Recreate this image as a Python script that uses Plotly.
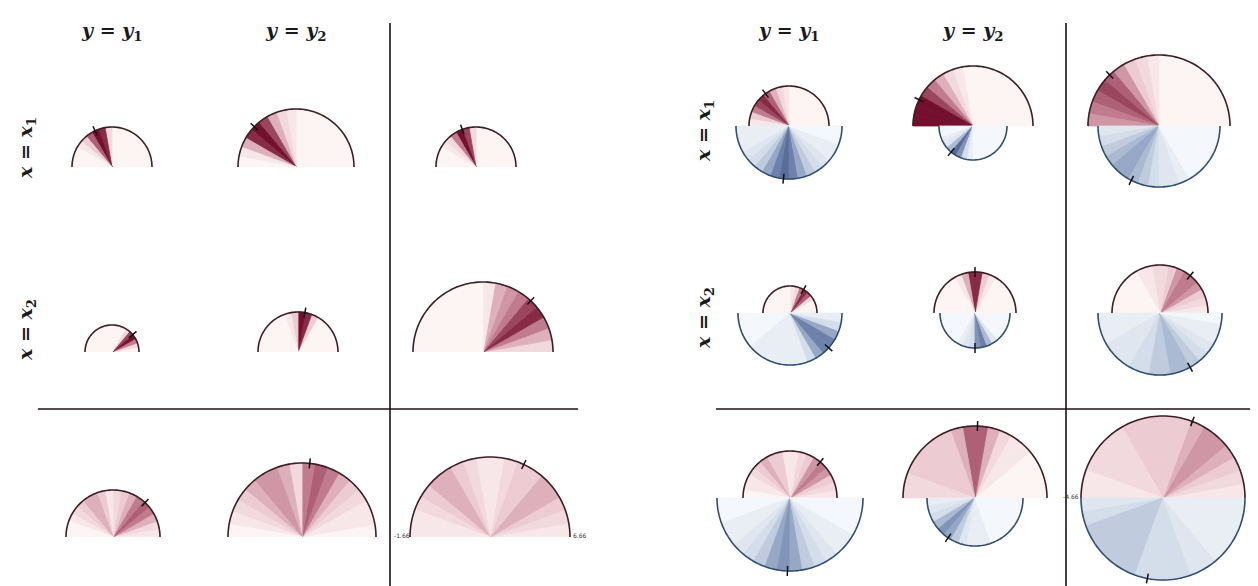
import numpy as np
import plotly.graph_objects as go

# bin centres (degrees) for the upper (red) and lower (blue) half of a glyph
angles_up = list(range(5, 180, 10))
angles_dn = list(range(185, 360, 10))

# left panel, glyphs in row-major order (x1/y1, x1/y2, x1/all, x2/..., all/...)
left_radius = [40, 58, 40, 27, 40, 70, 47, 74, 80]
left_tick = [115, 136, 110, 40, 80, 47, 47, 84, 65]
left_red = [
    [0, 0, 0, 0, 0, 0, 0, 0, 0, 2, 9, 10, 7, 3, 1, 0, 0, 0],
    [0, 0, 0, 0, 0, 0, 0, 0, 0, 1, 2, 4, 8, 10, 9, 4, 1, 0],
    [0, 0, 0, 0, 0, 0, 0, 0, 0, 2, 8, 10, 6, 2, 1, 0, 0, 0],
    [0, 2, 6, 10, 8, 2, 0, 0, 0, 0, 0, 0, 0, 0, 0, 0, 0, 0],
    [0, 0, 0, 0, 0, 0, 3, 9, 10, 3, 1, 0, 0, 0, 0, 0, 0, 0],
    [2, 4, 6, 9, 8, 6, 5, 4, 1, 0, 0, 0, 0, 0, 0, 0, 0, 0],
    [1, 2, 4, 6, 7, 6, 4, 3, 2, 1, 3, 4, 4, 3, 2, 1, 0, 0],
    [0, 1, 1, 2, 3, 4, 6, 7, 6, 2, 4, 5, 5, 4, 3, 2, 1, 0],
    [1, 2, 3, 4, 4, 3, 3, 2, 1, 1, 2, 3, 4, 4, 3, 2, 1, 1],
]

# right panel: upper (red) and lower (blue) halves
right_radius_up = [40, 60, 71, 27, 41, 48, 47, 72, 82]
right_radius_dn = [53, 34, 61, 52, 35, 62, 73, 48, 82]
right_tick_up = [126, 154, 134, 60, 90, 51, 50, 88, 69]
right_tick_dn = [264, 230, 243, 318, 270, 299, 268, 236, 259]
right_red = [
    [0, 0, 0, 0, 0, 0, 0, 0, 0, 1, 2, 4, 7, 9, 8, 6, 3, 1],
    [0, 0, 0, 0, 0, 0, 0, 0, 0, 0, 1, 2, 4, 6, 8, 10, 10, 10],
    [0, 0, 0, 0, 0, 0, 0, 0, 0, 1, 2, 3, 5, 7, 8, 7, 6, 5],
    [0, 0, 0, 2, 7, 9, 6, 2, 1, 0, 0, 0, 0, 0, 0, 0, 0, 0],
    [0, 0, 0, 0, 0, 0, 1, 3, 9, 9, 4, 1, 0, 0, 0, 0, 0, 0],
    [1, 2, 3, 5, 6, 6, 5, 3, 2, 2, 1, 1, 0, 0, 0, 0, 0, 0],
    [1, 2, 3, 5, 6, 5, 3, 2, 1, 1, 3, 3, 4, 3, 2, 1, 1, 0],
    [0, 0, 0, 0, 1, 1, 2, 4, 7, 7, 4, 3, 3, 3, 3, 3, 2, 2],
    [1, 2, 3, 4, 5, 5, 4, 3, 3, 3, 3, 3, 2, 2, 2, 2, 1, 1],
]
right_blue = [
    [1, 1, 1, 2, 3, 4, 6, 8, 9, 8, 6, 4, 3, 2, 1, 1, 0, 0],
    [0, 0, 1, 2, 5, 9, 7, 3, 1, 0, 0, 0, 0, 0, 0, 0, 0, 0],
    [2, 3, 4, 5, 6, 6, 5, 4, 3, 2, 2, 1, 0, 0, 0, 0, 0, 0],
    [0, 0, 0, 0, 1, 1, 1, 1, 1, 1, 1, 3, 6, 8, 8, 6, 3, 1],
    [0, 0, 0, 0, 0, 0, 1, 2, 3, 7, 8, 5, 2, 0, 0, 0, 0, 0],
    [1, 1, 1, 2, 2, 2, 3, 3, 4, 4, 5, 5, 4, 3, 2, 1, 1, 0],
    [0, 0, 1, 1, 2, 3, 4, 6, 7, 6, 4, 3, 2, 1, 1, 0, 0, 0],
    [1, 2, 3, 5, 7, 6, 4, 2, 1, 1, 1, 0, 0, 0, 0, 0, 0, 0],
    [2, 3, 4, 4, 4, 4, 4, 3, 3, 3, 3, 2, 2, 1, 1, 1, 1, 1],
]

col_labels = ["<b><i>y</i> = <i>y</i><sub>1</sub></b>", "<b><i>y</i> = <i>y</i><sub>2</sub></b>"]
row_labels = ["<b><i>x</i> = <i>x</i><sub>1</sub></b>", "<b><i>x</i> = <i>x</i><sub>2</sub></b>"]
axis_labels = ["-1.66", "6.66", "-4.66", "7.0"]

# ---- layout geometry (pixels) ----
W, H = 1258, 586
RMAX = 88
left_cx = [[104, 288, 468], [104, 290, 475], [105, 294, 482]]
left_cy = [159, 344, 529]
right_cx = [[781, 965, 1151], [782, 967, 1152], [782, 967, 1155]]
right_cy = [118, 305, 490]

reds = [[0, "#fdf5f3"], [0.3, "#eccbd2"], [0.6, "#c07b8e"], [1, "#74102f"]]
blues = [[0, "#f4f7fb"], [0.3, "#d4ddea"], [0.6, "#97a8c7"], [1, "#44598c"]]

fig = go.Figure()
layout_polars = {}
arc_up = np.linspace(0, 180, 91)
arc_dn = np.linspace(180, 360, 91)


def px_x(v):
    return v / W


def px_y(v):
    return 1 - v / H


def add_half(sub, theta, rad, inten, scale, arc, arc_col, tick):
    fig.add_trace(go.Barpolar(
        theta=theta, r=[rad] * len(theta), width=10,
        marker=dict(color=inten, colorscale=scale, cmin=0, cmax=10,
                    line=dict(color=inten, colorscale=scale, cmin=0, cmax=10, width=0.8)),
        subplot=sub, hoverinfo="skip"))
    fig.add_trace(go.Scatterpolar(
        theta=arc, r=[rad] * len(arc), mode="lines",
        line=dict(color=arc_col, width=1.6), subplot=sub, hoverinfo="skip"))
    fig.add_trace(go.Scatterpolar(
        theta=[tick, tick], r=[rad - 5, rad + 5], mode="lines",
        line=dict(color="#111111", width=1.5), subplot=sub, hoverinfo="skip"))


def polar_cfg(x0, x1, y0, y1, sector):
    return dict(
        domain=dict(x=[x0, x1], y=[y0, y1]), sector=sector, hole=0,
        bgcolor="rgba(0,0,0,0)",
        radialaxis=dict(visible=False, range=[0, RMAX]),
        angularaxis=dict(visible=False))


n = 0
for i in range(9):
    row, col = divmod(i, 3)
    n += 1
    sub = "polar" if n == 1 else f"polar{n}"
    cx, cy = left_cx[row][col], left_cy[row]
    layout_polars[sub] = polar_cfg(px_x(cx - RMAX), px_x(cx + RMAX),
                                   px_y(cy), px_y(cy - RMAX), [0, 180])
    add_half(sub, angles_up, left_radius[i], left_red[i], reds, arc_up, "#3a1f26", left_tick[i])

for i in range(9):
    row, col = divmod(i, 3)
    n += 1
    sub = f"polar{n}"
    cx, cy = right_cx[row][col], right_cy[row]
    layout_polars[sub] = polar_cfg(px_x(cx - RMAX), px_x(cx + RMAX),
                                   px_y(cy + RMAX), px_y(cy - RMAX), [0, 360])
    add_half(sub, angles_up, right_radius_up[i], right_red[i], reds, arc_up, "#3a1f26", right_tick_up[i])
    add_half(sub, angles_dn, right_radius_dn[i], right_blue[i], blues, arc_dn, "#2f4d6e", right_tick_dn[i])

fig.update_layout(**layout_polars)

ann = []
hdr_font = dict(family="DejaVu Serif", size=19, color="#1a1a1a")
for xs, ys, rx in [((104, 288), (140, 322), 18), ((781, 965), (123, 310), 696)]:
    for k in range(2):
        ann.append(dict(x=px_x(xs[k]), y=px_y(23), text=col_labels[k], showarrow=False,
                        xref="paper", yref="paper", xanchor="center", yanchor="middle",
                        font=hdr_font))
        ann.append(dict(x=px_x(rx), y=px_y(ys[k]), text=row_labels[k], showarrow=False,
                        xref="paper", yref="paper", xanchor="center", yanchor="middle",
                        font=hdr_font, textangle=-90))

small = dict(family="DejaVu Sans", size=6, color="#333333")
for txt, xp, yp in zip(axis_labels, [394, 572, 1063, 1248], [527, 527, 488, 488]):
    ann.append(dict(x=px_x(xp), y=px_y(yp), text=txt, showarrow=False,
                    xref="paper", yref="paper", xanchor="center", yanchor="middle",
                    borderpad=0, font=small))

line_col = "#1c1212"
shapes = [
    dict(type="line", xref="paper", yref="paper", x0=px_x(382), x1=px_x(382), y0=px_y(15), y1=0,
         line=dict(color=line_col, width=1.6)),
    dict(type="line", xref="paper", yref="paper", x0=px_x(30), x1=px_x(570), y0=px_y(401), y1=px_y(401),
         line=dict(color=line_col, width=1.6)),
    dict(type="line", xref="paper", yref="paper", x0=px_x(1058), x1=px_x(1058), y0=px_y(15), y1=0,
         line=dict(color=line_col, width=1.6)),
    dict(type="line", xref="paper", yref="paper", x0=px_x(708), x1=1, y0=px_y(401), y1=px_y(401),
         line=dict(color=line_col, width=1.6)),
]

fig.update_layout(
    width=W, height=H, margin=dict(l=0, r=0, t=0, b=0),
    paper_bgcolor="white", plot_bgcolor="white",
    showlegend=False, annotations=ann, shapes=shapes,
)
fig.write_html("out.html")
